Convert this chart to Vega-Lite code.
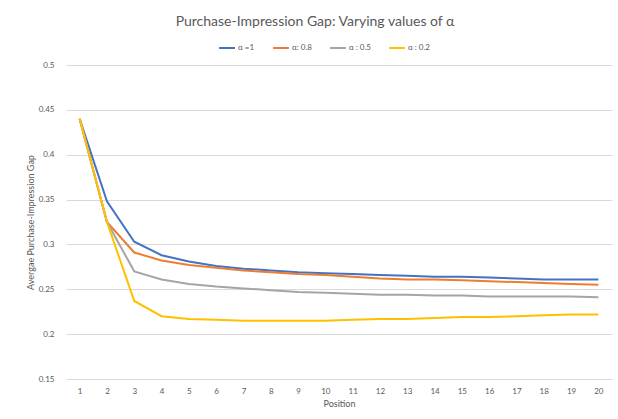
{
  "$schema": "https://vega.github.io/schema/vega-lite/v6.json",
  "width": 546,
  "height": 314,
  "autosize": {"type": "none"},
  "padding": {"left": 66, "top": 65, "right": 6, "bottom": 40},
  "background": "white",
  "config": {
    "font": "Lato",
    "view": {"stroke": null}
  },
  "title": {
    "text": "Purchase-Impression Gap: Varying values of α",
    "fontSize": 14,
    "fontWeight": "normal",
    "color": "#595959",
    "anchor": "middle",
    "dx": -24,
    "offset": 10
  },
  "data": {
    "values": [
      {"pos": 1, "s": "α =1", "v": 0.44},
      {"pos": 2, "s": "α =1", "v": 0.348},
      {"pos": 3, "s": "α =1", "v": 0.303},
      {"pos": 4, "s": "α =1", "v": 0.288},
      {"pos": 5, "s": "α =1", "v": 0.281},
      {"pos": 6, "s": "α =1", "v": 0.276},
      {"pos": 7, "s": "α =1", "v": 0.273},
      {"pos": 8, "s": "α =1", "v": 0.271},
      {"pos": 9, "s": "α =1", "v": 0.269},
      {"pos": 10, "s": "α =1", "v": 0.268},
      {"pos": 11, "s": "α =1", "v": 0.267},
      {"pos": 12, "s": "α =1", "v": 0.266},
      {"pos": 13, "s": "α =1", "v": 0.265},
      {"pos": 14, "s": "α =1", "v": 0.264},
      {"pos": 15, "s": "α =1", "v": 0.264},
      {"pos": 16, "s": "α =1", "v": 0.263},
      {"pos": 17, "s": "α =1", "v": 0.262},
      {"pos": 18, "s": "α =1", "v": 0.261},
      {"pos": 19, "s": "α =1", "v": 0.261},
      {"pos": 20, "s": "α =1", "v": 0.261},
      {"pos": 1, "s": "α: 0.8", "v": 0.44},
      {"pos": 2, "s": "α: 0.8", "v": 0.325},
      {"pos": 3, "s": "α: 0.8", "v": 0.291},
      {"pos": 4, "s": "α: 0.8", "v": 0.282},
      {"pos": 5, "s": "α: 0.8", "v": 0.277},
      {"pos": 6, "s": "α: 0.8", "v": 0.274},
      {"pos": 7, "s": "α: 0.8", "v": 0.271},
      {"pos": 8, "s": "α: 0.8", "v": 0.269},
      {"pos": 9, "s": "α: 0.8", "v": 0.267},
      {"pos": 10, "s": "α: 0.8", "v": 0.266},
      {"pos": 11, "s": "α: 0.8", "v": 0.264},
      {"pos": 12, "s": "α: 0.8", "v": 0.262},
      {"pos": 13, "s": "α: 0.8", "v": 0.261},
      {"pos": 14, "s": "α: 0.8", "v": 0.261},
      {"pos": 15, "s": "α: 0.8", "v": 0.260},
      {"pos": 16, "s": "α: 0.8", "v": 0.259},
      {"pos": 17, "s": "α: 0.8", "v": 0.258},
      {"pos": 18, "s": "α: 0.8", "v": 0.257},
      {"pos": 19, "s": "α: 0.8", "v": 0.256},
      {"pos": 20, "s": "α: 0.8", "v": 0.255},
      {"pos": 1, "s": "α : 0.5", "v": 0.44},
      {"pos": 2, "s": "α : 0.5", "v": 0.325},
      {"pos": 3, "s": "α : 0.5", "v": 0.270},
      {"pos": 4, "s": "α : 0.5", "v": 0.261},
      {"pos": 5, "s": "α : 0.5", "v": 0.256},
      {"pos": 6, "s": "α : 0.5", "v": 0.253},
      {"pos": 7, "s": "α : 0.5", "v": 0.251},
      {"pos": 8, "s": "α : 0.5", "v": 0.249},
      {"pos": 9, "s": "α : 0.5", "v": 0.247},
      {"pos": 10, "s": "α : 0.5", "v": 0.246},
      {"pos": 11, "s": "α : 0.5", "v": 0.245},
      {"pos": 12, "s": "α : 0.5", "v": 0.244},
      {"pos": 13, "s": "α : 0.5", "v": 0.244},
      {"pos": 14, "s": "α : 0.5", "v": 0.243},
      {"pos": 15, "s": "α : 0.5", "v": 0.243},
      {"pos": 16, "s": "α : 0.5", "v": 0.242},
      {"pos": 17, "s": "α : 0.5", "v": 0.242},
      {"pos": 18, "s": "α : 0.5", "v": 0.242},
      {"pos": 19, "s": "α : 0.5", "v": 0.242},
      {"pos": 20, "s": "α : 0.5", "v": 0.241},
      {"pos": 1, "s": "α : 0.2", "v": 0.44},
      {"pos": 2, "s": "α : 0.2", "v": 0.325},
      {"pos": 3, "s": "α : 0.2", "v": 0.237},
      {"pos": 4, "s": "α : 0.2", "v": 0.220},
      {"pos": 5, "s": "α : 0.2", "v": 0.217},
      {"pos": 6, "s": "α : 0.2", "v": 0.216},
      {"pos": 7, "s": "α : 0.2", "v": 0.215},
      {"pos": 8, "s": "α : 0.2", "v": 0.215},
      {"pos": 9, "s": "α : 0.2", "v": 0.215},
      {"pos": 10, "s": "α : 0.2", "v": 0.215},
      {"pos": 11, "s": "α : 0.2", "v": 0.216},
      {"pos": 12, "s": "α : 0.2", "v": 0.217},
      {"pos": 13, "s": "α : 0.2", "v": 0.217},
      {"pos": 14, "s": "α : 0.2", "v": 0.218},
      {"pos": 15, "s": "α : 0.2", "v": 0.219},
      {"pos": 16, "s": "α : 0.2", "v": 0.219},
      {"pos": 17, "s": "α : 0.2", "v": 0.220},
      {"pos": 18, "s": "α : 0.2", "v": 0.221},
      {"pos": 19, "s": "α : 0.2", "v": 0.222},
      {"pos": 20, "s": "α : 0.2", "v": 0.222}
    ]
  },
  "mark": {"type": "line", "strokeWidth": 2},
  "encoding": {
    "x": {
      "field": "pos",
      "type": "ordinal",
      "scale": {"type": "point", "padding": 0.5},
      "axis": {
        "title": "Position",
        "titleFontSize": 9,
        "titleFontWeight": "normal",
        "titleColor": "#595959",
        "titlePadding": 4,
        "labelAngle": 0,
        "labelFontSize": 8,
        "labelColor": "#595959",
        "labelPadding": 8,
        "ticks": false,
        "domain": false,
        "grid": false
      }
    },
    "y": {
      "field": "v",
      "type": "quantitative",
      "scale": {"domain": [0.15, 0.5], "nice": false, "zero": false},
      "axis": {
        "title": "Avergae Purchase-Impression Gap",
        "titleFontSize": 9,
        "titleFontWeight": "normal",
        "titleColor": "#595959",
        "titlePadding": 3,
        "values": [0.15, 0.2, 0.25, 0.3, 0.35, 0.4, 0.45, 0.5],
        "format": "~g",
        "labelFontSize": 8,
        "labelColor": "#595959",
        "labelPadding": 12,
        "ticks": false,
        "domain": false,
        "grid": true,
        "gridColor": "#d9d9d9",
        "gridWidth": 1
      }
    },
    "color": {
      "field": "s",
      "type": "nominal",
      "sort": ["α =1", "α: 0.8", "α : 0.5", "α : 0.2"],
      "scale": {
        "domain": ["α =1", "α: 0.8", "α : 0.5", "α : 0.2"],
        "range": ["#4472C4", "#ED7D31", "#A5A5A5", "#FFC000"]
      },
      "legend": {
        "title": null,
        "orient": "none",
        "direction": "horizontal",
        "legendX": 152,
        "legendY": -26,
        "symbolType": "stroke",
        "symbolStrokeWidth": 2,
        "symbolSize": 250,
        "labelFontSize": 8,
        "labelColor": "#595959",
        "columnPadding": 14,
        "labelOffset": 2
      }
    }
  }
}
